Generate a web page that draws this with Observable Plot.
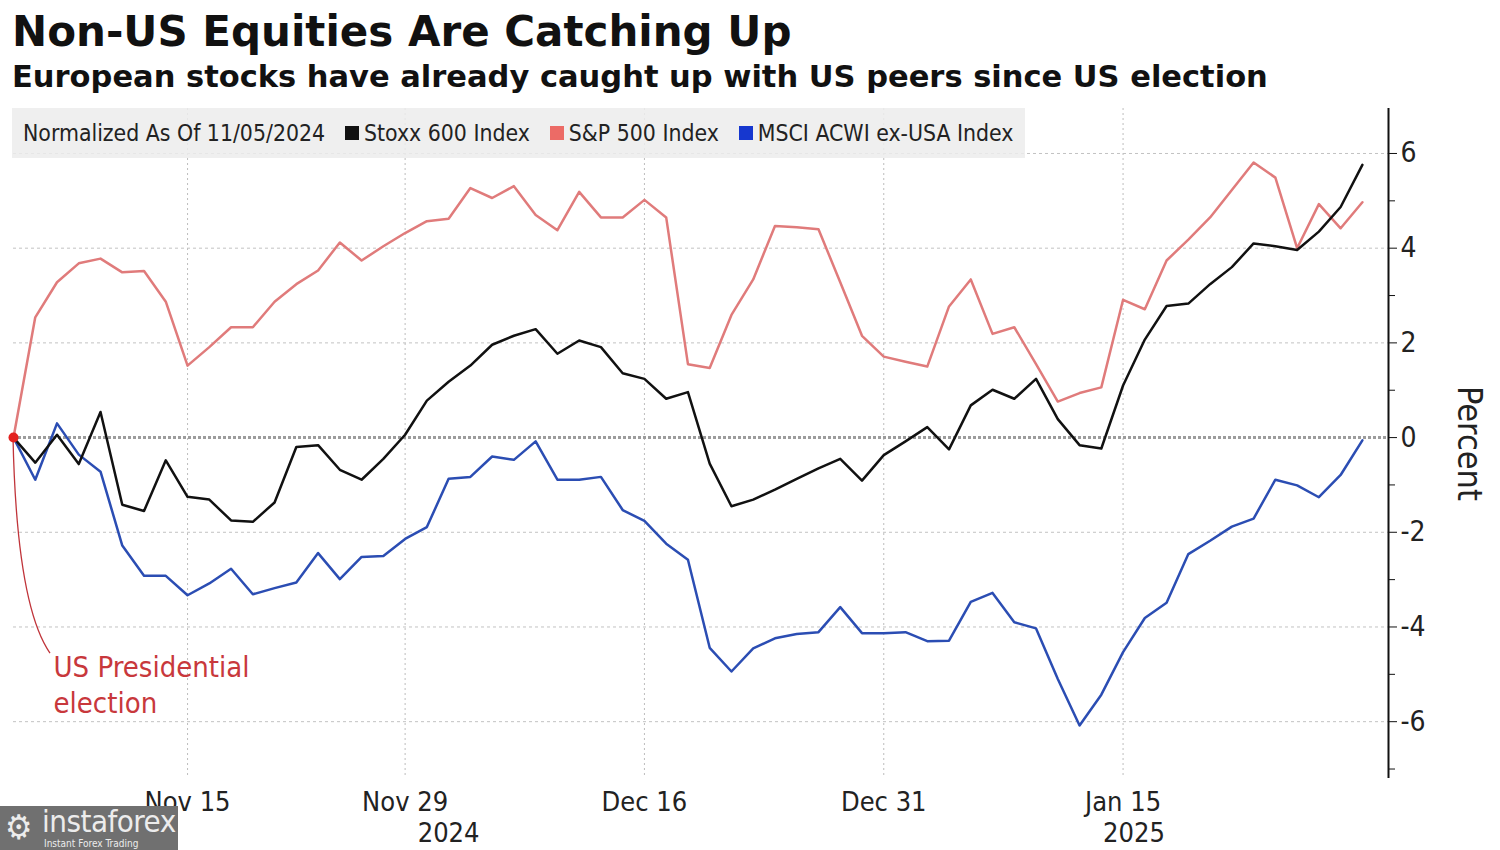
<!DOCTYPE html>
<html>
<head>
<meta charset="utf-8">
<script src="https://cdn.jsdelivr.net/npm/d3@7"></script>
<script src="https://cdn.jsdelivr.net/npm/@observablehq/plot@0.6"></script>
<style>
  html, body { margin: 0; padding: 0; background: #fff; }
  body { width: 1500px; height: 850px; position: relative; overflow: hidden; }
  #title { position: absolute; left: 12px; top: 11px; font: bold 42px "DejaVu Sans"; line-height: 42px; color: #111; white-space: nowrap; }
  #subtitle { position: absolute; left: 12px; top: 61px; font: bold 30.5px "DejaVu Sans"; line-height: 31px; color: #111; white-space: nowrap; }
  #chart { position: absolute; left: 0; top: 95px; }
  #legend { position: absolute; left: 12px; top: 108px; width: 1013px; height: 50px; background: rgba(236,236,236,0.85);
            display: flex; align-items: center; padding-left: 11px; box-sizing: border-box;
            font: 22.8px "DejaVu Sans Condensed"; color: #222; white-space: nowrap; }
  #legend .item { display: flex; align-items: center; margin-left: 20px; }
  #legend .sw { width: 14px; height: 14px; margin-right: 5px; }
  #wm { position: absolute; left: 0; top: 806px; width: 178px; height: 44px; background: #707070; color: #ececec; font-family: "DejaVu Sans Condensed"; }
  #wm .gear { position: absolute; left: 5px; top: 2px; font-size: 34px; line-height: 38px; }
  #wm .big { position: absolute; left: 42px; top: 0px; font-size: 31px; line-height: 31px; letter-spacing: -0.5px; }
  #wm .small { position: absolute; left: 44px; top: 32px; font-size: 10px; line-height: 11px; }
</style>
</head>
<body>
<div id="title">Non-US Equities Are Catching Up</div>
<div id="subtitle">European stocks have already caught up with US peers since US election</div>
<div id="chart"></div>
<div id="legend"></div>
<div id="wm"><span class="gear">⚙</span><span class="big">instaforex</span><span class="small">Instant Forex Trading</span></div>
<script>
// ---- Data (trading days since the US election, % change normalized as of 11/05/2024) ----
const dates = [
  "2024-11-05","2024-11-06","2024-11-07","2024-11-08","2024-11-11","2024-11-12","2024-11-13","2024-11-14","2024-11-15",
  "2024-11-18","2024-11-19","2024-11-20","2024-11-21","2024-11-22","2024-11-25","2024-11-26","2024-11-27","2024-11-28","2024-11-29",
  "2024-12-02","2024-12-03","2024-12-04","2024-12-05","2024-12-06","2024-12-09","2024-12-10","2024-12-11","2024-12-12","2024-12-13",
  "2024-12-16","2024-12-17","2024-12-18","2024-12-19","2024-12-20","2024-12-23","2024-12-24","2024-12-25","2024-12-26","2024-12-27",
  "2024-12-30","2024-12-31",
  "2025-01-01","2025-01-02","2025-01-03","2025-01-06","2025-01-07","2025-01-08","2025-01-09","2025-01-10","2025-01-13","2025-01-14",
  "2025-01-15","2025-01-16","2025-01-17","2025-01-20","2025-01-21","2025-01-22","2025-01-23","2025-01-24","2025-01-27","2025-01-28",
  "2025-01-29","2025-01-30"
];
const stoxx600 = [
  0, -0.53, 0.06, -0.56, 0.54, -1.42, -1.55, -0.48, -1.25, -1.31,
  -1.75, -1.78, -1.37, -0.20, -0.16, -0.68, -0.89, -0.45, 0.06, 0.78,
  1.18, 1.52, 1.96, 2.15, 2.29, 1.77, 2.05, 1.91, 1.36, 1.24,
  0.82, 0.96, -0.55, -1.45, -1.31, -1.10, -0.87, -0.65, -0.45, -0.91,
  -0.37, -0.08, 0.22, -0.25, 0.68, 1.01, 0.82, 1.24, 0.39, -0.16,
  -0.23, 1.10, 2.07, 2.78, 2.83, 3.24, 3.60, 4.10, 4.04, 3.96,
  4.35, 4.87, 5.76
];
const sp500 = [
  0, 2.54, 3.28, 3.68, 3.78, 3.49, 3.52, 2.87, 1.52, 1.91,
  2.33, 2.33, 2.87, 3.24, 3.53, 4.12, 3.74, 4.04, 4.32, 4.57,
  4.62, 5.27, 5.06, 5.31, 4.70, 4.38, 5.19, 4.65, 4.65, 5.02,
  4.65, 1.55, 1.47, 2.59, 3.34, 4.47, 4.44, 4.40, 3.28, 2.15,
  1.71, 1.60, 1.50, 2.77, 3.34, 2.19, 2.33, 1.55, 0.76, 0.94,
  1.06, 2.91, 2.71, 3.74, 4.18, 4.65, 5.23, 5.81, 5.49, 4.00,
  4.93, 4.42, 4.97
];
const msciExUS = [
  0, -0.89, 0.30, -0.36, -0.72, -2.28, -2.92, -2.92, -3.33, -3.08,
  -2.77, -3.31, -3.18, -3.06, -2.44, -2.99, -2.52, -2.50, -2.14, -1.89,
  -0.87, -0.83, -0.40, -0.47, -0.08, -0.89, -0.89, -0.83, -1.53, -1.76,
  -2.24, -2.58, -4.44, -4.94, -4.45, -4.24, -4.15, -4.11, -3.58, -4.13,
  -4.13, -4.11, -4.30, -4.29, -3.47, -3.28, -3.90, -4.03, -5.10, -6.08,
  -5.43, -4.53, -3.81, -3.49, -2.46, -2.18, -1.88, -1.71, -0.89, -1.01,
  -1.26, -0.79, -0.06
];
const seriesNames = ["Stoxx 600 Index", "S&P 500 Index", "MSCI ACWI ex-USA Index"];
const lineColors = ["#111111", "#e07b7b", "#2b4db3"];
const swatchColors = ["#111111", "#ec6b66", "#1637cf"];
const legendNote = "Normalized As Of 11/05/2024";
const tickDates = ["2024-11-15", "2024-11-29", "2024-12-16", "2024-12-31", "2025-01-15"];
const tickLabels = ["Nov 15", "Nov 29", "Dec 16", "Dec 31", "Jan 15"];
const yearLabels = ["2024", "2025"];
const yTicks = [-6, -4, -2, 0, 2, 4, 6];
const yMinorTicks = [-7, -5, -3, -1, 1, 3, 5];
const annotationText = "US Presidential\nelection";
const annotationDate = "2024-11-05";

// ---- Build tables ----
const seriesValues = [stoxx600, sp500, msciExUS];
const drawOrder = [2, 1, 0];
const rows = drawOrder.flatMap(s => dates.map((d, i) => ({i, date: d, value: seriesValues[s][i], series: seriesNames[s]})));
const tickIdx = tickDates.map(d => dates.indexOf(d));
const years = yearLabels.map(y => {
  const idx = dates.map((d, i) => d.startsWith(y) ? i : -1).filter(i => i >= 0);
  return {label: y, mid: (idx[0] + idx[idx.length - 1]) / 2};
});
const anno = [{i: dates.indexOf(annotationDate), value: 0, text: annotationText}];

const xDomain = [0, 63.2];
const yDomain = [-7.2, 6.95];

const chart = Plot.plot({
  width: 1500,
  height: 755,
  marginTop: 13,
  marginBottom: 72,
  marginLeft: 13,
  marginRight: 112,
  x: {domain: xDomain},
  y: {domain: yDomain},
  color: {domain: seriesNames, range: lineColors},
  style: {fontFamily: "DejaVu Sans Condensed", background: "transparent", color: "#222"},
  marks: [
    Plot.gridX(tickIdx, {stroke: "#bdbdbd", strokeOpacity: 1, strokeDasharray: "2,3", strokeWidth: 1}),
    Plot.gridY(yTicks.filter(d => d !== 0), {stroke: "#c2c2c2", strokeOpacity: 1, strokeDasharray: "3,3", strokeWidth: 1}),
    Plot.ruleY([0], {stroke: "#9c9c9c", strokeWidth: 3, strokeDasharray: "3,2"}),
    Plot.lineY(rows, {x: "i", y: "value", z: "series", stroke: "series", strokeWidth: 2.5}),
    // annotation leader (curved) from the election point
    (index, scales) => {
      const x0 = scales.x(anno[0].i), y0 = scales.y(anno[0].value);
      const p = document.createElementNS("http://www.w3.org/2000/svg", "path");
      p.setAttribute("d", `M${x0},${y0} C${x0 + 2},${y0 + 95} ${x0 + 12},${y0 + 180} ${x0 + 37},${y0 + 216}`);
      p.setAttribute("fill", "none");
      p.setAttribute("stroke", "#c0343a");
      p.setAttribute("stroke-width", "1.3");
      const g = document.createElementNS("http://www.w3.org/2000/svg", "g");
      g.appendChild(p);
      return g;
    },
    Plot.dot(anno, {x: "i", y: "value", r: 5, fill: "#e3211f"}),
    Plot.text(anno, {x: "i", y: "value", text: "text", dx: 40, dy: 246, textAnchor: "start", fontSize: 29, fill: "#c8383c", lineHeight: 1.22}),
    // x axis labels
    Plot.axisX(tickIdx, {tickSize: 0, tickPadding: 13, fontSize: 27, label: null, tickFormat: d => tickLabels[tickIdx.indexOf(d)]}),
    Plot.text(years, {x: "mid", text: "label", frameAnchor: "bottom", dy: 63, fontSize: 27, fill: "#222"}),
    // y axis on the right
    Plot.ruleX([xDomain[1]], {y1: yDomain[0], y2: yDomain[1], stroke: "#111", strokeWidth: 2}),
    Plot.axisY(yTicks, {anchor: "right", tickSize: 8, tickPadding: 4, fontSize: 28, label: null, tickFormat: d => String(d), stroke: "#111"}),
    Plot.axisY(yMinorTicks, {anchor: "right", tickSize: 6, label: null, tickFormat: () => "", stroke: "#111"}),
    Plot.text(["Percent"], {frameAnchor: "right", text: d => d, dx: 80, rotate: 90, textAnchor: "middle", fontSize: 34, fill: "#222"})
  ]
});
document.getElementById("chart").appendChild(chart);

// ---- Legend ----
const legend = document.getElementById("legend");
const note = document.createElement("span");
note.textContent = legendNote;
legend.appendChild(note);
seriesNames.forEach((name, k) => {
  const item = document.createElement("span");
  item.className = "item";
  const sw = document.createElement("span");
  sw.className = "sw";
  sw.style.background = swatchColors[k];
  item.appendChild(sw);
  const t = document.createElement("span");
  t.textContent = name;
  item.appendChild(t);
  legend.appendChild(item);
});
</script>
</body>
</html>
